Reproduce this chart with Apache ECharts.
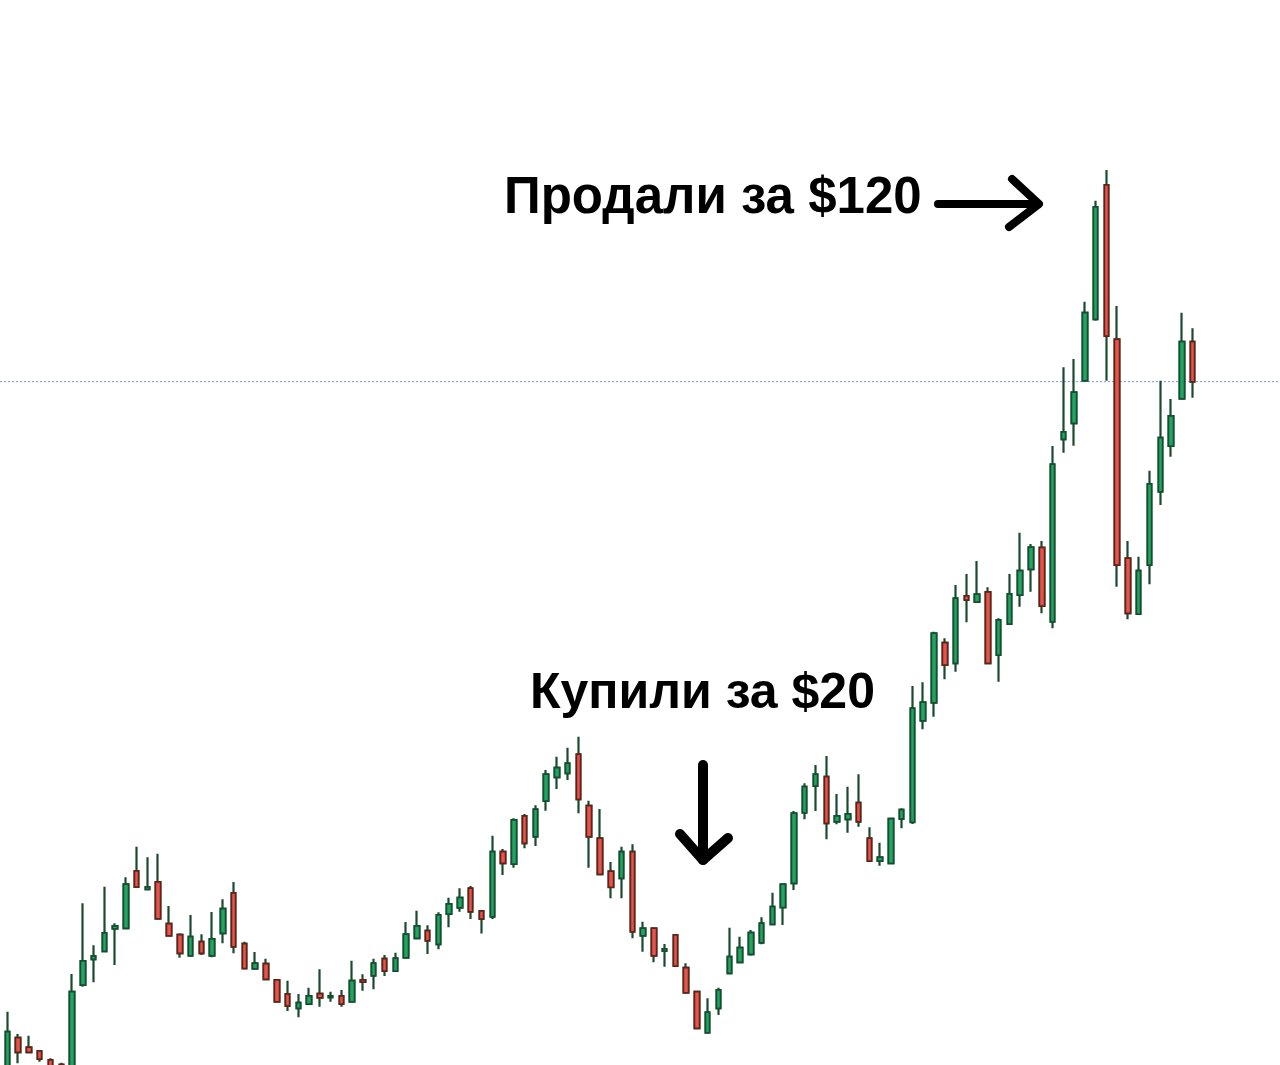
<!DOCTYPE html>
<html>
<head>
<meta charset="utf-8">
<script src="https://cdn.jsdelivr.net/npm/echarts@6/dist/echarts.min.js"></script>
<style>
html,body{margin:0;padding:0;background:#fff;}
#chart{width:1280px;height:1065px;}
</style>
</head>
<body>
<div id="chart"></div>
<script>
// Candle values (price, $), in time order
const opens = [14.6,19.12,17.96,17.52,16.44,15.9,14.5,25.44,28.52,29.48,32.2,32.24,39.12,36.92,37.8,32.8,31.48,28.96,30.64,28.96,31.64,36.48,30.4,27.4,28.0,26.04,24.36,22.64,23.16,24.4,23.96,24.12,23.44,26.04,26.56,28.6,27.12,28.72,31.04,31.96,30.32,33.96,34.72,37.04,34.32,33.64,41.44,39.96,45.72,43.24,47.52,50.36,50.84,53.12,46.96,43.04,39.08,38.24,41.44,31.36,32.24,29.52,31.44,27.52,24.64,19.72,22.64,26.84,28.16,29.12,30.52,32.72,34.74,37.64,46.12,49.32,50.44,45.04,45.32,47.32,43.04,40.32,40.04,45.38,44.98,57.16,59.32,66.52,64.04,72.12,71.4,72.6,65.04,68.76,72.24,75.32,77.94,69.04,90.92,92.84,97.96,105.32,121.44,102.92,76.64,69.96,75.84,84.64,90.12,95.8,102.64];
const closes = [19.84,17.36,17.36,16.56,15.48,15.6,24.64,28.32,28.92,31.68,32.52,37.52,37.2,37.2,33.4,31.36,29.24,31.24,29.24,30.96,34.6,30.04,27.42,28.04,26.12,23.44,22.92,23.32,24.12,23.92,24.12,23.16,25.96,25.8,28.04,27.12,28.64,31.52,32.52,30.76,33.84,35.16,35.92,34.24,33.36,41.44,40.04,45.24,42.44,46.52,50.72,51.52,52.04,47.72,43.24,38.72,37.18,41.44,31.84,32.24,28.96,29.76,27.72,24.52,20.24,22.16,24.84,28.84,29.92,31.72,32.84,34.84,37.52,46.04,49.24,50.72,44.84,45.72,45.96,45.04,40.32,40.76,45.4,46.48,58.64,59.36,67.64,63.84,71.84,71.64,72.32,64.04,69.24,72.36,75.16,77.96,70.92,87.92,91.8,96.56,106.12,118.8,103.32,75.84,70.04,75.16,85.56,91.12,93.72,102.64,97.84];
const lows = [13.4,16.04,17.24,16.24,15.0,14.5,14.0,25.24,25.76,29.4,27.84,32.12,37.1,36.9,33.3,31.3,28.72,28.9,29.04,28.76,30.44,29.24,27.3,27.3,26.0,23.4,22.32,21.56,23.1,22.84,23.44,22.84,23.4,24.76,24.92,26.52,27.1,28.7,31.0,29.16,29.72,32.36,34.24,33.36,31.62,33.36,38.64,39.52,41.84,42.12,46.36,48.96,50.04,46.04,39.52,38.6,35.84,35.84,31.04,29.44,28.16,27.64,27.6,24.4,20.1,19.6,21.84,26.8,28.1,28.96,30.32,32.7,32.64,36.84,45.32,46.32,42.92,44.72,43.72,44.44,40.2,39.76,39.9,44.24,44.76,56.12,57.64,62.12,63.04,68.96,71.3,63.9,61.84,68.7,70.84,72.64,70.04,68.24,89.32,90.16,97.9,105.16,97.96,73.24,69.32,69.9,73.52,83.04,88.84,95.7,95.92];
const highs = [22.24,19.56,19.36,17.6,16.64,16.1,26.76,35.24,30.2,37.24,32.84,38.36,42.04,40.76,41.2,34.92,31.64,33.84,31.52,34.2,35.72,37.8,30.64,29.4,28.6,26.1,25.96,24.36,25.12,27.32,24.64,24.84,28.36,26.72,28.6,29.04,29.32,33.0,34.36,32.6,34.16,35.92,37.04,37.32,34.4,43.36,41.76,45.44,45.96,47.0,51.24,52.84,53.92,55.24,47.56,46.56,40.2,42.04,42.32,33.04,32.3,30.36,31.5,28.04,24.7,23.84,25.12,32.32,31.24,32.04,33.56,36.52,37.56,46.32,49.64,51.84,52.92,48.36,49.24,50.72,44.36,42.52,45.5,46.64,61.32,61.76,67.84,67.04,73.44,74.76,76.32,73.16,69.44,74.76,79.72,78.36,78.72,90.12,99.56,100.56,107.44,119.56,123.24,106.92,78.72,76.84,87.16,97.96,95.76,106.12,104.24];
const categories = opens.map((_, i) => 'D' + (i + 1));
const buyText = 'Купили за $20';
const sellText = 'Продали за $120';

const Y_MIN = 15.84, Y_MAX = 143.64;
const GREEN = '#22a463', GREEN_DARK = '#12502f', RED = '#e4564b', RED_DARK = '#6e1d16', WICK = '#1b4a31';

const fullData = opens.map((o, i) => [o, closes[i], lows[i], highs[i]]);
const bodyData = opens.map((o, i) => [o, closes[i], Math.min(o, closes[i]), Math.max(o, closes[i])]);
const lastClose = closes[closes.length - 1];

const chart = echarts.init(document.getElementById('chart'), null, {renderer: 'canvas'});
chart.setOption({
  animation: false,
  backgroundColor: '#ffffff',
  grid: [
    {left: 2, right: 82, top: 0, bottom: 0},
    {left: 0, right: 0, top: 0, bottom: 0}
  ],
  xAxis: [
    {type: 'category', data: categories, gridIndex: 0, boundaryGap: true, show: false},
    {type: 'value', gridIndex: 1, min: 0, max: 1, show: false}
  ],
  yAxis: [
    {type: 'value', gridIndex: 0, min: Y_MIN, max: Y_MAX, show: false, splitLine: {show: false}},
    {type: 'value', gridIndex: 1, min: Y_MIN, max: Y_MAX, show: false, splitLine: {show: false}}
  ],
  series: [
    {
      type: 'line', xAxisIndex: 1, yAxisIndex: 1, z: 1,
      data: [[0, lastClose], [1, lastClose]],
      symbol: 'none', silent: true,
      lineStyle: {color: '#7f94d8', width: 1, type: [2, 2]}
    },
    {
      type: 'candlestick', xAxisIndex: 0, yAxisIndex: 0, z: 2,
      data: fullData, barWidth: 5, clip: true,
      itemStyle: {color: GREEN, color0: RED, borderColor: WICK, borderColor0: WICK, borderWidth: 2.2}
    },
    {
      type: 'candlestick', xAxisIndex: 0, yAxisIndex: 0, z: 3,
      data: bodyData, barWidth: 5, clip: true,
      itemStyle: {color: GREEN, color0: RED, borderColor: GREEN_DARK, borderColor0: RED_DARK, borderWidth: 1.5}
    }
  ],
  graphic: [
    {type: 'text', left: 504, top: 173, z: 10,
     style: {text: sellText, font: 'bold 51px "Liberation Sans", Arial, sans-serif', fill: '#000'}},
    {type: 'polyline', z: 10, shape: {points: [[938, 204], [1038, 204]]},
     style: {stroke: '#000', lineWidth: 8, lineCap: 'round', fill: null}},
    {type: 'polyline', z: 10, shape: {points: [[1012, 179], [1039, 204], [1009, 227]]},
     style: {stroke: '#000', lineWidth: 8, lineCap: 'round', lineJoin: 'round', fill: null}},
    {type: 'text', left: 530, top: 669, z: 10,
     style: {text: buyText, font: 'bold 50px "Liberation Sans", Arial, sans-serif', fill: '#000'}},
    {type: 'polyline', z: 10, shape: {points: [[703, 765], [703, 860]]},
     style: {stroke: '#000', lineWidth: 10, lineCap: 'round', fill: null}},
    {type: 'polyline', z: 10, shape: {points: [[680, 834], [703, 860], [728, 838]]},
     style: {stroke: '#000', lineWidth: 10, lineCap: 'round', lineJoin: 'round', fill: null}}
  ]
});
</script>
</body>
</html>
